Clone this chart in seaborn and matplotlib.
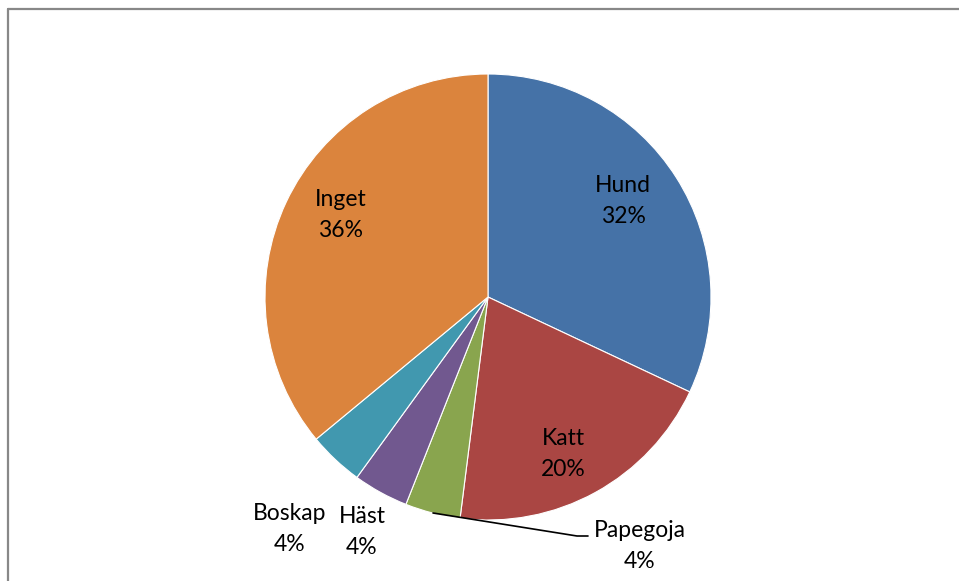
import matplotlib
matplotlib.use("Agg")
import matplotlib.pyplot as plt
import seaborn as sns

# data
djur = ["Hund", "Katt", "Papegoja", "Häst", "Boskap", "Inget"]
andel = [32, 20, 4, 4, 4, 36]
farger = ["#4572A7", "#AA4643", "#89A54E", "#71588F", "#4198AF", "#DB843D"]

sns.set_theme(style="white")
plt.rcParams['font.family'] = ['Lato', 'DejaVu Sans']

W, H = 959, 581
fig = plt.figure(figsize=(W / 100, H / 100), dpi=100)
ax = fig.add_axes([0, 0, 1, 1])

# pixel positions (y from top) -> axes coords
def py(y):
    return H - y

cx, cy, r = 488, 297, 223
ax.pie(andel, colors=farger, startangle=90, counterclock=False,
       center=(cx, py(cy)), radius=r, frame=True,
       wedgeprops=dict(edgecolor='white', linewidth=0.8))
ax.set_xlim(0, W)
ax.set_ylim(0, H)
ax.axis('off')

# label positions (centre of text block)
etiketter = {
    "Hund": (623, 201),
    "Katt": (563, 454),
    "Papegoja": (640, 546),
    "Häst": (362, 532),
    "Boskap": (290, 529),
    "Inget": (341, 215),
}
for namn, v in zip(djur, andel):
    x, y = etiketter[namn]
    ax.text(x, py(y), f"{namn}\n{v}%", ha='center', va='center',
            fontsize=16.5, linespacing=1.6, color='black')

# leader line for Papegoja
ax.plot([433, 577, 588], [py(513), py(536), py(536)], color='black', lw=1.2)

# frame lines (top and left)
fig.add_artist(plt.Line2D([8 / W, 1], [1 - 9 / H, 1 - 9 / H], color='#888888', lw=1.6))
fig.add_artist(plt.Line2D([8 / W, 8 / W], [0, 1 - 9 / H], color='#888888', lw=1.6))

fig.savefig("out.png", dpi=100, facecolor='white')
